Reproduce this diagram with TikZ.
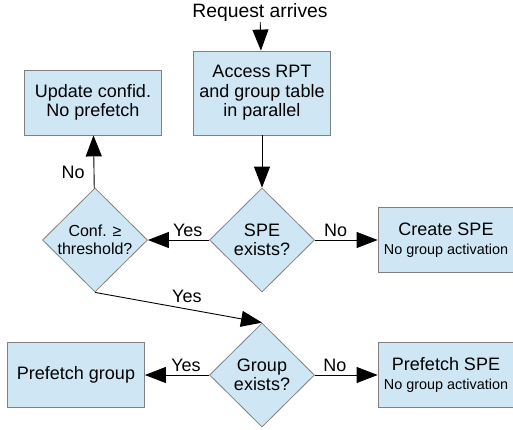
\documentclass[tikz,border=0pt]{standalone}
\usepackage{fontspec}
\setmainfont{Liberation Sans}
\usepackage{tikz}
\usetikzlibrary{shapes.geometric, arrows.meta}
\definecolor{boxblue}{HTML}{CFE7F5}
\definecolor{boxline}{HTML}{808080}
\newcommand{\bigfont}{\fontsize{18}{19.5}\selectfont}
\newcommand{\smallfont}{\fontsize{14.4}{16}\selectfont}
\tikzstyle{plain} = [font=\fontsize{19.3}{21}\selectfont, inner sep=0pt]
\tikzstyle{process} = [rectangle, minimum width=137pt, minimum height=65pt, text centered, align=center, font=\bigfont, draw=boxline, line width=0.8pt, fill=boxblue]
\tikzstyle{decision} = [diamond, aspect=1, minimum width=105pt, minimum height=104pt, inner sep=0pt, text centered, align=center, font=\bigfont, draw=boxline, line width=0.8pt, fill=boxblue]
\tikzstyle{arrow} = [line width=0.9pt, ->, >={Triangle[length=21pt,width=16pt]}]
\tikzstyle{lbl} = [font=\bigfont, inner sep=3pt]
\begin{document}
\begin{tikzpicture}[x=1pt, y=1pt]
      \useasboundingbox (0,0) rectangle (513,-429);
      \node (start) [plain] at (260,-13) {Request arrives};
      \node (pro1) [process, below of=start, node distance=80pt, xshift=2pt, minimum height=84pt] {Access RPT\\and group table\\in parallel};

      \node (dec1) [decision, below of=pro1, node distance=147pt] {SPE\\exists?};
      \node (dec2) [decision, left of=dec1, node distance=167pt, font=\fontsize{16}{17.5}\selectfont] {Conf. ≥\\threshold?};
      \node (dec3) [decision, below of=dec1, node distance=135pt] {Group\\exists?};

      \node (out1) [process, above of=dec2, node distance=137.5pt, xshift=-2pt] {Update confid.\\No prefetch};
      \node (out2) [process, right of=dec1, node distance=184pt, minimum width=136pt] {Create SPE\\{\smallfont No group activation}};
      \node (out3) [process, left of=dec3, node distance=186pt] {Prefetch group};
      \node (out4) [process, right of=dec3, node distance=184pt, minimum width=136pt] {Prefetch SPE\\{\smallfont No group activation}};

      \draw [arrow] (start) -- (pro1);
      \draw [arrow] (pro1) -- (dec1);
      \draw [arrow] (dec1) -- node [lbl, above, pos=0.35] {Yes} (dec2);
      \draw [arrow] (dec1) -- node [lbl, above, pos=0.33] {No} (out2);
      \draw [arrow] (dec2) -- node [lbl, left, pos=0.3, xshift=-6pt] {No} (out1);
      \draw [arrow] (dec2.south) -- node [lbl, above, pos=0.55, yshift=3pt] {Yes} (dec3.north);
      \draw [arrow] (dec3) -- node [lbl, above, pos=0.36] {Yes} (out3);
      \draw [arrow] (dec3) -- node [lbl, above, pos=0.32] {No} (out4);
    \end{tikzpicture}
\end{document}
